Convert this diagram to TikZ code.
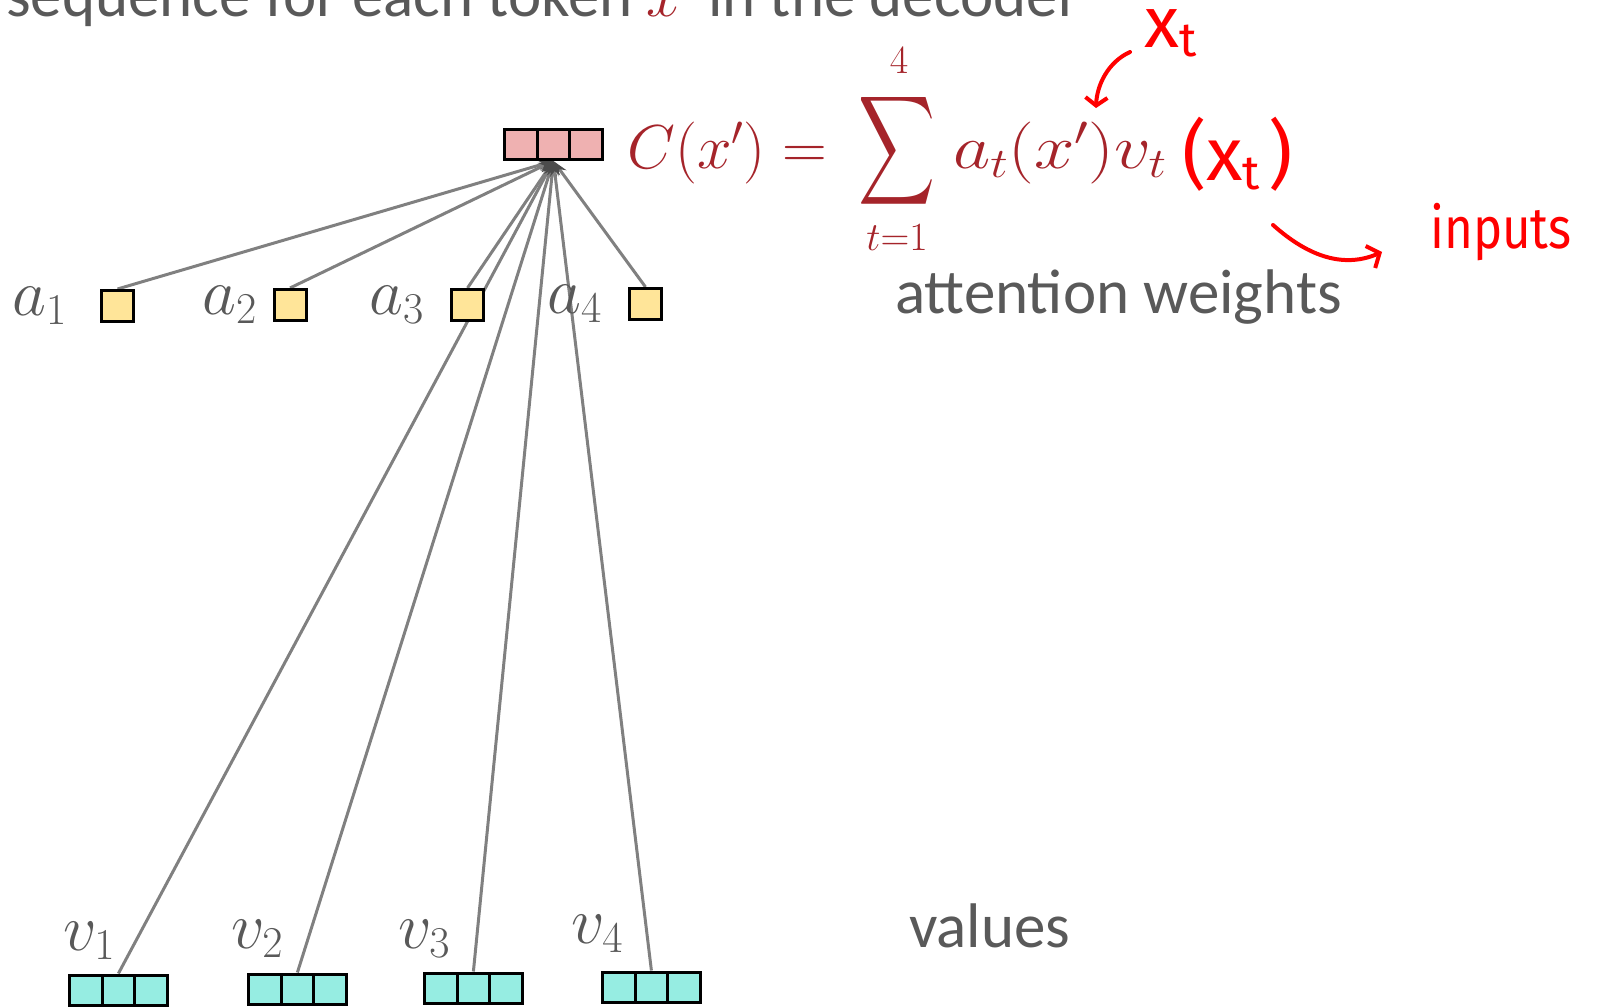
\RequirePackage{fix-cm}
\documentclass[tikz,border=0pt]{standalone}
\usepackage{fontspec}
\setmainfont{Carlito}
\newfontfamily\hand{Fira Sans}
\usepackage{graphicx}
\usetikzlibrary{arrows.meta}
\definecolor{txtgray}{RGB}{89,89,89}
\definecolor{fred}{RGB}{165,36,42}
\definecolor{hred}{RGB}{255,0,0}
\definecolor{pinkc}{RGB}{239,177,177}
\definecolor{yelc}{RGB}{255,229,153}
\definecolor{tealc}{RGB}{150,237,226}
\definecolor{linec}{RGB}{128,128,128}
\DeclareMathSizes{66}{66}{44}{30}
\DeclareMathSizes{62}{62}{42}{30}
\DeclareMathSizes{63}{63}{42}{32}
\newcommand{\bigtxt}{\fontsize{63}{70}\selectfont}
\newcommand{\labfont}{\fontsize{66}{70}\selectfont}
\newcommand{\formfont}{\fontsize{62}{70}\selectfont}
\pgfdeclarelayer{bg}
\pgfsetlayers{bg,main}
\tikzset{
  cellbox/.style={draw=black, line width=3pt, minimum width=32.6pt, minimum height=30pt, inner sep=0pt},
  ccell/.style={cellbox, fill=pinkc},
  vcell/.style={cellbox, fill=tealc},
  abox/.style={draw=black, line width=3pt, fill=yelc, minimum width=32pt, minimum height=31pt, inner sep=0pt},
  lab/.style={font=\labfont, text=txtgray, inner sep=0pt, anchor=base west},
  conn/.style={draw=linec, line width=3pt, -{Stealth[length=15pt, width=10pt, color=black!70]}},
  hw/.style={draw=hred, line width=4pt, line cap=round, line join=round},
  handtxt/.style={text=hred, inner sep=0pt, anchor=base west}
}
\begin{document}
\begin{tikzpicture}[x=1pt, y=-1pt]
\useasboundingbox (0,0) rectangle (1601,1007);
\clip (0,0) rectangle (1601,1007);

% top (cut) text
\node[anchor=base west, font=\bigtxt, text=txtgray, inner sep=0pt] (toptext) at (6,16)
  {sequence for each token \textcolor{fred}{$x'$} in the decoder};

% context vector
\node[ccell] (c2) at (553.4,144.5) {};
\node[ccell, xshift=-32.6pt] (c1) at (c2) {};
\node[ccell, xshift=32.6pt] (c3) at (c2) {};

% attention weights
\node[abox] (a1) at (117.5,306) {};
\node[abox] (a2) at (290,305) {};
\node[abox] (a3) at (467.5,305) {};
\node[abox] (a4) at (645.5,304) {};
\node[lab] (la1) at (12,315) {$a_1$};
\node[lab] (la2) at (202,314) {$a_2$};
\node[lab] (la3) at (369,314) {$a_3$};
\node[lab] (la4) at (547,313) {$a_4$};

% values
\node[vcell] (v1b) at (118.4,990) {};
\node[vcell, xshift=-32.6pt] (v1a) at (v1b) {};
\node[vcell, xshift=32.6pt] (v1c) at (v1b) {};
\node[vcell] (v2b) at (297.4,989) {};
\node[vcell, xshift=-32.6pt] (v2a) at (v2b) {};
\node[vcell, xshift=32.6pt] (v2c) at (v2b) {};
\node[vcell] (v3b) at (473.4,988) {};
\node[vcell, xshift=-32.6pt] (v3a) at (v3b) {};
\node[vcell, xshift=32.6pt] (v3c) at (v3b) {};
\node[vcell] (v4b) at (651.4,987) {};
\node[vcell, xshift=-32.6pt] (v4a) at (v4b) {};
\node[vcell, xshift=32.6pt] (v4c) at (v4b) {};
\node[lab] (lv1) at (63,950) {$v_1$};
\node[lab] (lv2) at (231,948) {$v_2$};
\node[lab] (lv3) at (398,948) {$v_3$};
\node[lab] (lv4) at (571,943) {$v_4$};

% connectors
\begin{pgfonlayer}{bg}
\foreach \s in {a1,a2,a3,a4,v1b,v2b,v3b,v4b}
  \draw[conn] (\s.north) -- (c2.south);
\end{pgfonlayer}

% side texts
\node[anchor=base west, font=\bigtxt, text=txtgray, inner sep=0pt] (aw) at (895,313) {attention weights};
\node[anchor=base west, font=\bigtxt, text=txtgray, inner sep=0pt] (vals) at (909,947) {values};

% formula
\node[anchor=base west, text=fred, font=\formfont, inner sep=0pt] (fC) at (627,168) {$C(x')=$};
\node[text=fred, inner sep=0pt] (fsum) at (897,151) {\resizebox*{77pt}{122pt}{$\displaystyle\sum$}};
\node[anchor=base, text=fred, font=\fontsize{40}{44}\selectfont, inner sep=0pt] (ftop) at (899,73) {$4$};
\node[anchor=base, text=fred, font=\fontsize{40}{44}\selectfont, inner sep=0pt] (fbot) at (897,250) {$t{=}1$};
\node[anchor=base west, text=fred, font=\formfont, inner sep=0pt] (frest) at (953,168) {\scalebox{1.17}[1]{$a_t(x')v_t$}};

% handwritten annotations
\node[handtxt, font=\hand\fontsize{72}{80}\selectfont] (hxt) at (1144,47)
  {x\raisebox{-9pt}{\fontsize{48}{50}\selectfont t}};
\node[handtxt, font=\hand\fontsize{75}{80}\selectfont] (hargs) at (1182,180)
  {(x\raisebox{-9pt}{\fontsize{48}{50}\selectfont t}\hspace{8pt})};
\node[handtxt, font=\hand\fontsize{58}{60}\selectfont] (hin) at (1430,248) {\scalebox{0.85}[1]{inputs}};
\coordinate (h1s) at (1130,52);
\coordinate (h1e) at (1096,108);
\draw[hw, -{Straight Barb[length=8pt, width=22pt]}] (h1s) .. controls (1108,62) and (1097,85) .. (h1e);
\coordinate (h2s) at (1273,225);
\coordinate (h2e) at (1382,252);
\draw[hw, -{Straight Barb[length=10pt, width=24pt]}] (h2s) .. controls (1310,258) and (1345,268) .. (h2e);
\end{tikzpicture}
\end{document}
